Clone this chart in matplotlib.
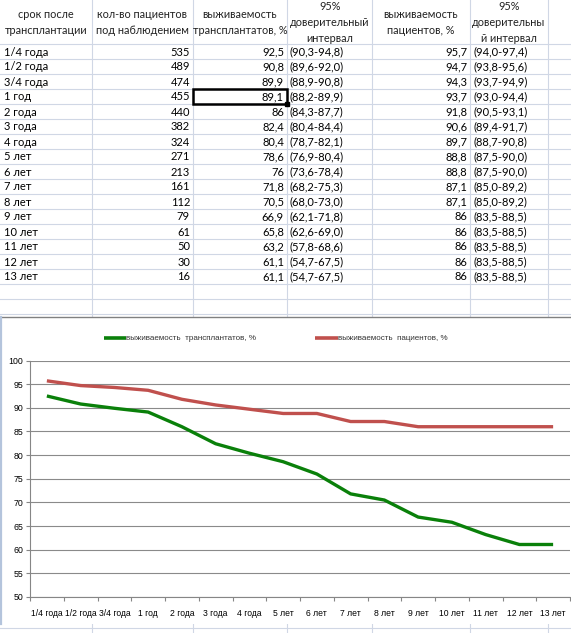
import matplotlib
matplotlib.use("Agg")
import matplotlib.pyplot as plt
from matplotlib.patches import Rectangle

# ---------------- data ----------------
periods = ["1/4 года", "1/2 года", "3/4 года", "1 год", "2 года", "3 года", "4 года",
           "5 лет", "6 лет", "7 лет", "8 лет", "9 лет", "10 лет", "11 лет", "12 лет", "13 лет"]
patients_n = [535, 489, 474, 455, 440, 382, 324, 271, 213, 161, 112, 79, 61, 50, 30, 16]
graft_surv = [92.5, 90.8, 89.9, 89.1, 86, 82.4, 80.4, 78.6, 76, 71.8, 70.5, 66.9, 65.8, 63.2, 61.1, 61.1]
graft_ci = ["(90,3-94,8)", "(89,6-92,0)", "(88,9-90,8)", "(88,2-89,9)", "(84,3-87,7)",
            "(80,4-84,4)", "(78,7-82,1)", "(76,9-80,4)", "(73,6-78,4)", "(68,2-75,3)",
            "(68,0-73,0)", "(62,1-71,8)", "(62,6-69,0)", "(57,8-68,6)", "(54,7-67,5)",
            "(54,7-67,5)"]
patient_surv = [95.7, 94.7, 94.3, 93.7, 91.8, 90.6, 89.7, 88.8, 88.8, 87.1, 87.1, 86, 86, 86, 86, 86]
patient_ci = ["(94,0-97,4)", "(93,8-95,6)", "(93,7-94,9)", "(93,0-94,4)", "(90,5-93,1)",
              "(89,4-91,7)", "(88,7-90,8)", "(87,5-90,0)", "(87,5-90,0)", "(85,0-89,2)",
              "(85,0-89,2)", "(83,5-88,5)", "(83,5-88,5)", "(83,5-88,5)", "(83,5-88,5)",
              "(83,5-88,5)"]
headers = [["срок после", "трансплантации"],
           ["кол-во пациентов", "под наблюдением"],
           ["выживаемость", "трансплантатов, %"],
           ["95%", "доверительный", "интервал"],
           ["выживаемость", "пациентов, %"],
           ["95%", "доверительны", "й интервал"]]
series_names = ["выживаемость  трансплантатов, %", "выживаемость  пациентов, %"]
y_ticks = [50, 55, 60, 65, 70, 75, 80, 85, 90, 95, 100]

W, H = 571, 633
FONT = "Lato"
GRID = "#d0d7e5"

fig = plt.figure(figsize=(W / 100, H / 100), dpi=100)
bg = fig.add_axes([0, 0, 1, 1])
bg.set_xlim(0, W)
bg.set_ylim(H, 0)
bg.axis("off")


def fmt(v):
    return ("%g" % v).replace(".", ",")


# ---------------- spreadsheet grid ----------------
col_x = [92, 193, 287, 372, 470, 548]
row0 = 44
rh = 15
chart_top, chart_bot = 317, 624
for x in col_x:
    bg.plot([x, x], [0, chart_top], color=GRID, lw=0.8)
    bg.plot([x, x], [chart_bot, H], color=GRID, lw=0.8)
for i in range(0, 19):
    y = row0 + i * rh
    bg.plot([0, W], [y, y], color=GRID, lw=0.8)
bg.plot([0, W], [628, 628], color=GRID, lw=0.8)

# header
centers = [46, 142, 240, 330, 421, 509]
for c, lines in zip(centers, headers):
    if len(lines) == 3:
        ys = [7, 22, 38]
    else:
        ys = [14, 30]
    for t, y in zip(lines, ys):
        bg.text(c, y, t, ha="center", va="center", fontsize=7.8, family=FONT, color="#222222")

# body
for i in range(len(periods)):
    y = row0 + i * rh + rh / 2 + 0.5
    kw = dict(va="center", fontsize=8, family=FONT, color="black")
    bg.text(4, y, periods[i], ha="left", **kw)
    bg.text(190, y, str(patients_n[i]), ha="right", **kw)
    bg.text(284, y, fmt(graft_surv[i]), ha="right", **kw)
    bg.text(290, y, graft_ci[i], ha="left", **kw)
    bg.text(467, y, fmt(patient_surv[i]), ha="right", **kw)
    bg.text(473, y, patient_ci[i], ha="left", **kw)

# selected cell
sel = 3
bg.add_patch(Rectangle((193, row0 + sel * rh), 94, rh, fill=False, ec="black", lw=1.8, zorder=5))
bg.add_patch(Rectangle((285, row0 + (sel + 1) * rh - 2), 4, 4, color="black", zorder=6))

# chart frame
bg.add_patch(Rectangle((0, chart_top), W + 20, chart_bot - chart_top, fc="white",
                       ec="none", zorder=3))
bg.plot([0, W], [chart_top, chart_top], color="#808080", lw=1.0, zorder=3.5)
bg.plot([1.2, 1.2], [chart_top, chart_bot], color="#b4c4dc", lw=1.6, zorder=3.5)

# ---------------- chart ----------------
px_left, px_right, px_top, px_bot = 30, 570, 360.5, 597
ax = fig.add_axes([px_left / W, 1 - px_bot / H, (px_right - px_left) / W, (px_bot - px_top) / H])
ax.set_zorder(4)
ax.patch.set_alpha(0)
x = list(range(len(periods)))
green = "#0a800a"
red = "#c0504d"
ax.plot(x, graft_surv, color=green, lw=2.4, solid_joinstyle="round",
        solid_capstyle="butt", label=series_names[0])
ax.plot(x, patient_surv, color=red, lw=2.4, solid_joinstyle="round",
        solid_capstyle="butt", label=series_names[1])
ax.set_xlim(-0.5, len(periods) - 0.5)
ax.set_ylim(50, 100)
ax.set_yticks(y_ticks)
ax.set_yticklabels([str(v) for v in y_ticks], fontsize=6.3, family="Liberation Sans")
ax.set_xticks(x)
ax.set_xticklabels(periods, fontsize=6.2, family="Liberation Sans")
ax.tick_params(axis="x", length=0, pad=9)
ax.set_xticks([i - 0.5 for i in range(len(periods) + 1)], minor=True)
ax.tick_params(axis="x", which="minor", length=3, color="#868686", width=0.8)
ax.tick_params(axis="y", length=3, color="#868686", width=0.8, pad=2)
ax.grid(axis="y", color="#8a8a8a", lw=0.8)
for s in ["top", "right"]:
    ax.spines[s].set_visible(False)
for s in ["left", "bottom"]:
    ax.spines[s].set_color("#868686")
    ax.spines[s].set_linewidth(0.8)
ax.set_axisbelow(True)

# legend (manual positions to match Excel layout)
leg_y = 338
for (x0, x1, tx, col, name) in [(104, 126, 126, green, series_names[0]),
                                (315, 338, 338, red, series_names[1])]:
    bg.plot([x0, x1], [leg_y, leg_y], color=col, lw=2.6, zorder=6, solid_capstyle="butt")
    bg.text(tx, leg_y, name, ha="left", va="center", fontsize=5.8,
            family="Liberation Sans", color="#333333", zorder=6)

fig.savefig("out.png", dpi=100)
